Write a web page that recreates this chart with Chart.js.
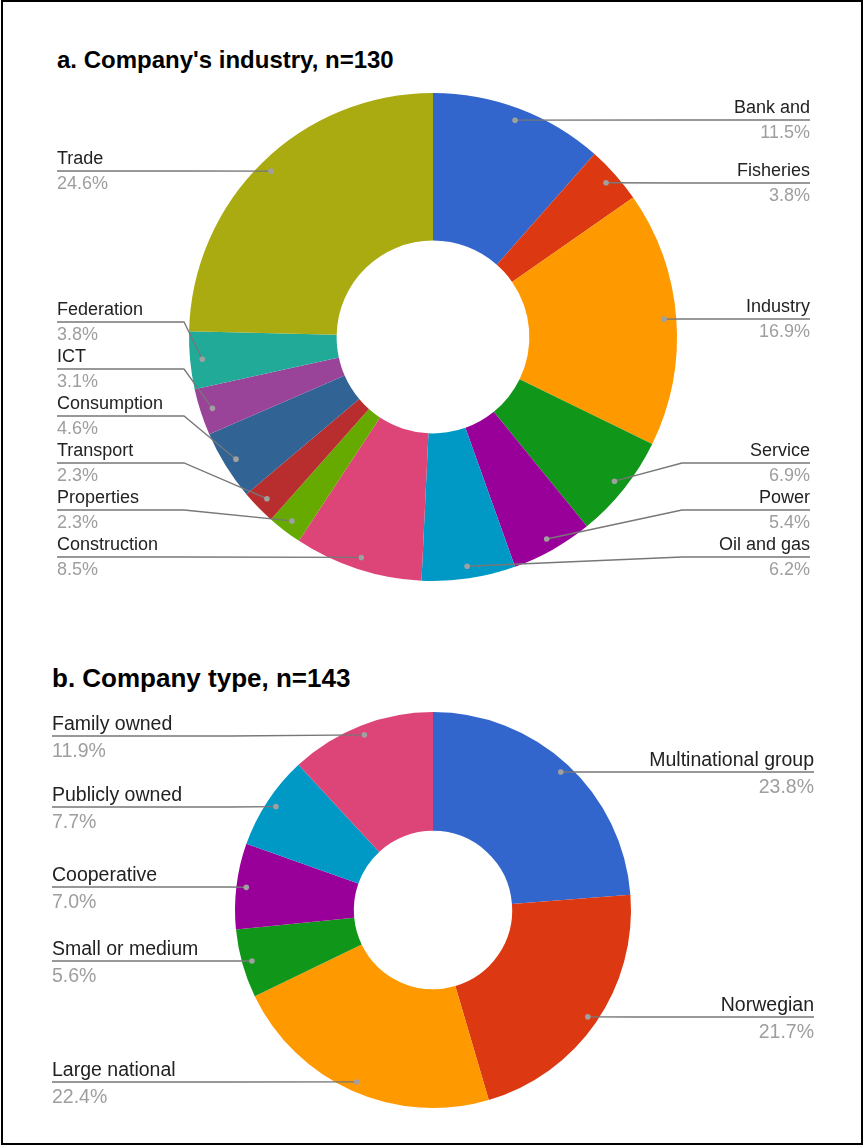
<!DOCTYPE html>
<html>
<head>
<meta charset="utf-8">
<script src="https://cdn.jsdelivr.net/npm/chart.js@4/dist/chart.umd.min.js"></script>
<style>
body { margin: 0; background: #fff; }
#page { position: relative; width: 864px; height: 1146px; overflow: hidden; font-family: 'Liberation Sans', Arial, sans-serif; }
#frame { position: absolute; left: 1px; top: 0; width: 862px; height: 1145px; border: 2px solid #000; box-sizing: border-box; pointer-events: none; }
.title { position: absolute; font-weight: bold; color: #000; white-space: nowrap; }
#titleA { left: 57px; top: 48px; font-size: 24px; line-height: 24px; }
#titleB { left: 52px; top: 665px; font-size: 26px; line-height: 26px; }
canvas { position: absolute; left: 0; }
#industryChart { top: 80px; }
#typeChart { top: 700px; }
</style>
</head>
<body>
<div id="page">
  <div class="title" id="titleA">a. Company's industry, n=130</div>
  <canvas id="industryChart" width="864" height="520"></canvas>
  <div class="title" id="titleB">b. Company type, n=143</div>
  <canvas id="typeChart" width="864" height="440"></canvas>
  <div id="frame"></div>
</div>
<script>
// a. industry (percent of n=130)
var industryLabels = ["Bank and", "Fisheries", "Industry", "Service", "Power", "Oil and gas", "Construction", "Properties", "Transport", "Consumption", "ICT", "Federation", "Trade"];
var industryValues = [11.5, 3.8, 16.9, 6.9, 5.4, 6.2, 8.5, 2.3, 2.3, 4.6, 3.1, 3.8, 24.6];

// b. company type (percent of n=143)
var typeLabels = ["Multinational group", "Norwegian", "Large national", "Small or medium", "Cooperative", "Publicly owned", "Family owned"];
var typeValues = [23.8, 21.7, 22.4, 5.6, 7.0, 7.7, 11.9];

var palette = ["#3366cc", "#dc3912", "#ff9900", "#109618", "#990099", "#0099c6", "#dd4477", "#66aa00", "#b82e2e", "#316395", "#994499", "#22aa99", "#aaaa11"];

// labels outside the ring, with leader lines to a dot in each slice
var outsideLabels = {
    id: 'outsideLabels',
    afterDraw: function(chart, args, opts) {
        var ctx = chart.ctx;
        var area = chart.chartArea;
        var meta = chart.getDatasetMeta(0);
        var values = chart.data.datasets[0].data;
        var items = [];

        meta.data.forEach(function(arc, i) {
            var p = arc.getProps(['x', 'y', 'startAngle', 'endAngle', 'outerRadius'], true);
            var mid = (p.startAngle + p.endAngle) / 2;
            var r = p.outerRadius * 0.95;
            items.push({
                label: chart.data.labels[i],
                pct: values[i].toFixed(1) + '%',
                cx: p.x,
                R: p.outerRadius,
                dx: p.x + Math.cos(mid) * r,
                dy: p.y + Math.sin(mid) * r,
                right: Math.cos(mid) >= 0
            });
        });

        [true, false].forEach(function(side) {
            var list = items.filter(function(it) { return it.right === side; });
            list.sort(function(a, b) { return a.dy - b.dy; });
            var minY = area.top + opts.edge;
            var maxY = area.bottom - opts.edge;
            list.forEach(function(it, k) {
                it.ly = Math.min(Math.max(it.dy, minY), maxY);
                if (k > 0) it.ly = Math.max(it.ly, list[k - 1].ly + opts.gap);
            });
            for (var k = list.length - 1; k >= 0; k--) {
                if (k === list.length - 1) list[k].ly = Math.min(list[k].ly, maxY);
                else list[k].ly = Math.min(list[k].ly, list[k + 1].ly - opts.gap);
            }
        });

        ctx.save();
        items.forEach(function(it) {
            var tx = it.right ? opts.right : opts.left;
            var ex = it.right ? it.cx + it.R + 5 : it.cx - it.R - 5;
            var ly = Math.round(it.ly);

            ctx.strokeStyle = '#777777';
            ctx.lineWidth = 1.3;
            ctx.beginPath();
            ctx.moveTo(tx, ly);
            ctx.lineTo(ex, ly);
            ctx.lineTo(it.dx, it.dy);
            ctx.stroke();

            ctx.fillStyle = '#a0a0a0';
            ctx.beginPath();
            ctx.arc(it.dx, it.dy, 2.8, 0, Math.PI * 2);
            ctx.fill();

            ctx.font = opts.size + "px 'Liberation Sans', Arial, sans-serif";
            ctx.textAlign = it.right ? 'right' : 'left';
            ctx.textBaseline = 'alphabetic';
            ctx.fillStyle = '#222222';
            ctx.fillText(it.label, tx, ly - opts.above);
            ctx.fillStyle = '#9e9e9e';
            ctx.fillText(it.pct, tx, ly + opts.below);
        });
        ctx.restore();
    }
};

var industryChart = new Chart(document.getElementById("industryChart"), {
    type: 'doughnut',
    data: {
        labels: industryLabels,
        datasets: [{
            data: industryValues,
            backgroundColor: palette,
            borderWidth: 0,
            hoverOffset: 0,
            offset: 0
        }]
    },
    options: {
        responsive: false,
        animation: false,
        cutout: '39.5%',
        layout: { padding: { top: 13, bottom: 19, left: 2, right: 0 } },
        plugins: {
            legend: { display: false },
            tooltip: { enabled: false },
            outsideLabels: { left: 57, right: 810, size: 18, gap: 47, edge: 24, above: 7, below: 18 }
        }
    },
    plugins: [outsideLabels]
});

var typeChart = new Chart(document.getElementById("typeChart"), {
    type: 'doughnut',
    data: {
        labels: typeLabels,
        datasets: [{
            data: typeValues,
            backgroundColor: palette.slice(0, 7),
            borderWidth: 0,
            hoverOffset: 0,
            offset: 0
        }]
    },
    options: {
        responsive: false,
        animation: false,
        cutout: '40%',
        layout: { padding: { top: 12, bottom: 32, left: 2, right: 0 } },
        plugins: {
            legend: { display: false },
            tooltip: { enabled: false },
            outsideLabels: { left: 52, right: 814, size: 19.5, gap: 51, edge: 24, above: 6, below: 21 }
        }
    },
    plugins: [outsideLabels]
});
</script>
</body>
</html>
